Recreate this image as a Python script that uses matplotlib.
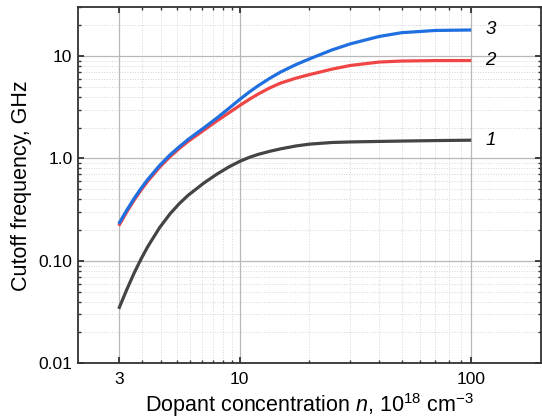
import numpy as np
import matplotlib
matplotlib.use("Agg")
import matplotlib.pyplot as plt
from matplotlib.ticker import FixedLocator, FixedFormatter, LogLocator, NullFormatter

plt.rcParams['font.family'] = ['Liberation Sans', 'DejaVu Sans']
plt.rcParams['mathtext.fontset'] = 'custom'
plt.rcParams['mathtext.rm'] = 'Liberation Sans'
plt.rcParams['mathtext.it'] = 'Liberation Sans:italic'

# concentrazione (10^18 cm^-3)
n = [3, 3.25, 3.5, 3.75, 4, 4.5, 5, 5.5, 6, 7, 8, 9, 10, 11, 12, 13.5, 15, 17.5,
     20, 25, 30, 40, 50, 70, 100]
# frequenza di taglio (GHz), curve 1, 2, 3
f1 = [0.034, 0.0525, 0.0764, 0.1048, 0.1373, 0.2104, 0.2886, 0.3654, 0.4391, 0.576,
      0.707, 0.8295, 0.9365, 1.025, 1.095, 1.175, 1.24, 1.324, 1.379, 1.431, 1.449,
      1.466, 1.478, 1.494, 1.507]
f2 = [0.22, 0.301, 0.393, 0.493, 0.598, 0.818, 1.042, 1.26, 1.474, 1.89, 2.34, 2.80,
      3.29, 3.78, 4.25, 4.89, 5.44, 6.08, 6.58, 7.44, 8.08, 8.73, 8.93, 9.02, 9.03]
f3 = [0.230, 0.313, 0.408, 0.512, 0.622, 0.851, 1.085, 1.31, 1.54, 1.99, 2.50, 3.10,
      3.77, 4.455, 5.12, 6.07, 6.97, 8.25, 9.37, 11.45, 13.13, 15.51, 16.89, 17.76,
      17.95]

curve_labels = ['1', '2', '3']
colors = ['#444444', '#f04545', '#1f6fe0']

x_major = [3, 10, 100]
x_major_labels = ['3', '10', '100']
y_major = [0.01, 0.1, 1, 10]
y_major_labels = ['0.01', '0.10', '1.0', '10']


def main():
    fig = plt.figure(figsize=(5.42, 4.20), dpi=100)
    ax = fig.add_axes([0.1439, 0.135, 0.854, 0.848])

    for f, lab, c in zip([f1, f2, f3], curve_labels, colors):
        ax.plot(n, f, color=c, lw=2.3, solid_capstyle='butt', solid_joinstyle='round', zorder=3)
        ax.annotate(lab, xy=(n[-1], f[-1]), xytext=(10, 0), textcoords='offset points',
                    ha='left', va='center', fontsize=13.5, style='italic')

    ax.set_xscale('log')
    ax.set_yscale('log')
    ax.set_xlim(2, 200)
    ax.set_ylim(0.01, 30)

    # tacche minori come in Origin: lineari fra le tacche principali
    x_minor = list(np.linspace(3, 10, 10)[1:-1]) + list(range(20, 100, 10))
    ax.xaxis.set_major_locator(FixedLocator(x_major))
    ax.xaxis.set_major_formatter(FixedFormatter(x_major_labels))
    ax.xaxis.set_minor_locator(FixedLocator(x_minor))
    ax.xaxis.set_minor_formatter(NullFormatter())
    ax.yaxis.set_major_locator(FixedLocator(y_major))
    ax.yaxis.set_major_formatter(FixedFormatter(y_major_labels))
    ax.yaxis.set_minor_locator(LogLocator(base=10, subs=np.arange(2, 10)))
    ax.yaxis.set_minor_formatter(NullFormatter())

    ax.grid(True, which='major', color='#b8b8b8', lw=0.9, ls='-')
    ax.grid(True, which='minor', color='#d4d4d4', lw=0.7, ls=':')
    ax.set_axisbelow(True)

    for s in ax.spines.values():
        s.set_color('#333333')
        s.set_linewidth(1.3)
    ax.tick_params(which='both', direction='in', top=True, right=True, color='#333333',
                   labelsize=12.5)
    ax.tick_params(which='major', length=4.5, width=1.3)
    ax.tick_params(which='minor', length=2.5, width=1.0)
    ax.tick_params(axis='x', which='major', pad=6)
    ax.tick_params(axis='y', which='major', pad=4)

    ax.set_xlabel('Dopant concentration $n$, 10$^{18}$ cm$^{-3}$', fontsize=15.5, labelpad=3)
    ax.set_ylabel('Cutoff frequency, GHz', fontsize=15.5, labelpad=5)

    fig.savefig('out.png', dpi=100)


if __name__ == "__main__":
    main()
